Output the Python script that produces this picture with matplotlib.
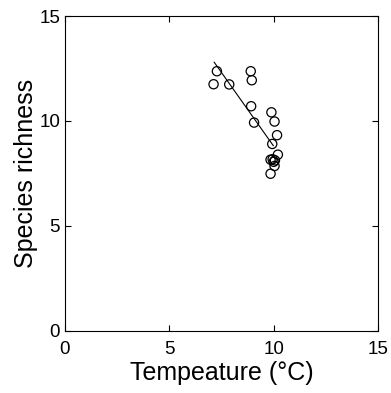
import matplotlib
matplotlib.use("Agg")
import matplotlib.pyplot as plt
import numpy as np

plt.rcParams['font.family'] = ['Liberation Sans', 'DejaVu Sans']

temperature = [7.12, 7.28, 7.87, 8.90, 8.95, 8.92, 9.06, 9.89, 10.04, 10.16,
               9.93, 10.20, 9.85, 9.95, 10.00, 10.06, 10.04, 9.85]
richness = [11.75, 12.37, 11.74, 12.37, 11.94, 10.70, 9.92, 10.41, 9.97, 9.32,
            8.90, 8.39, 8.15, 8.17, 8.05, 8.12, 7.85, 7.48]

fit_x = [7.15, 9.98]
fit_y = [12.80, 8.82]

fig = plt.figure(figsize=(3.91, 3.93), dpi=100)
ax = fig.add_axes([0.166, 0.159, 0.801, 0.800])

ax.scatter(temperature, richness, s=44, facecolors='none', edgecolors='black',
           linewidths=0.9, zorder=3)
ax.plot(fit_x, fit_y, color='black', linewidth=0.8, zorder=2)

ax.set_xlim(0, 15)
ax.set_ylim(0, 15)
ax.set_xticks([0, 5, 10, 15])
ax.set_yticks([0, 5, 10, 15])
ax.tick_params(direction='in', length=4, width=0.8, labelsize=13.5,
               top=True, right=True)
ax.tick_params(axis='x', pad=7.5)
ax.tick_params(axis='y', pad=3.5)
for s in ax.spines.values():
    s.set_linewidth(0.8)

ax.set_xlabel('Tempeature (°C)', fontsize=18, labelpad=2)
ax.set_ylabel('Species richness', fontsize=18, labelpad=1)

fig.savefig('out.png', dpi=100)
